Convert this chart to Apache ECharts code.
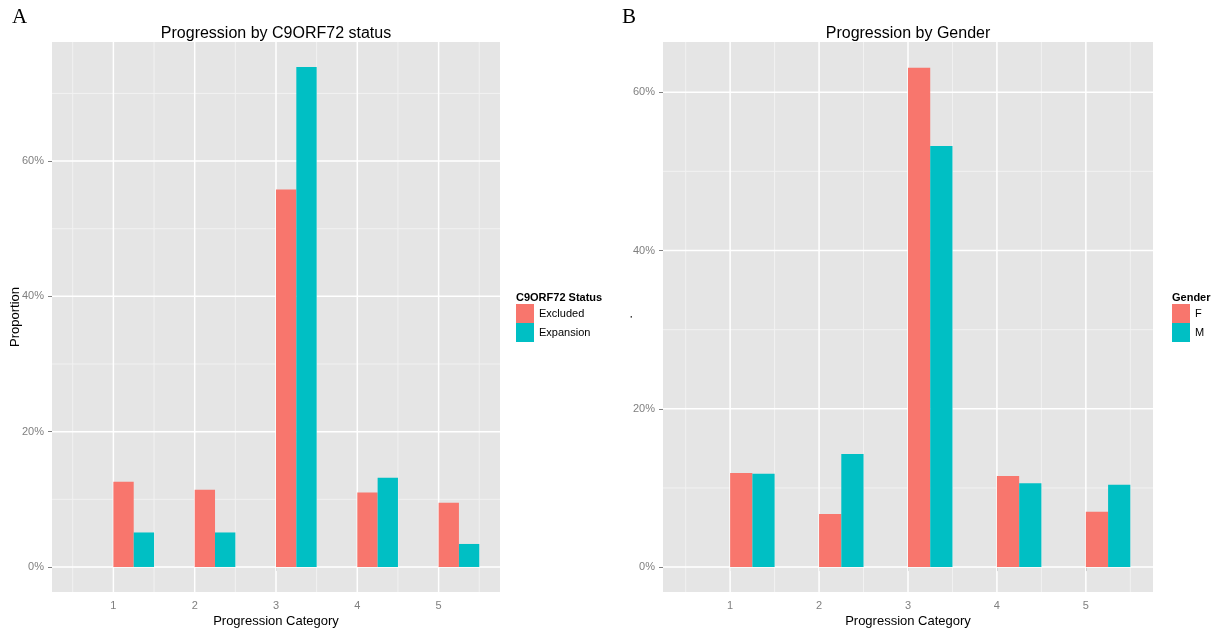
<!DOCTYPE html>
<html>
<head>
<meta charset="utf-8">
<script src="https://cdn.jsdelivr.net/npm/echarts@6/dist/echarts.min.js"></script>
<style>
html,body{margin:0;padding:0;background:#fff;}
#main{width:1217px;height:628px;}
</style>
</head>
<body>
<div id="main"></div>
<script>
// ---- data ----
const categories = [1, 2, 3, 4, 5];
const statusExcluded = [12.6, 11.4, 55.8, 11.0, 9.5];
const statusExpansion = [5.1, 5.1, 73.9, 13.2, 3.4];
const genderF = [11.9, 6.7, 63.1, 11.5, 7.0];
const genderM = [11.8, 14.3, 53.2, 10.6, 10.4];
const xMajorTicks = [1, 2, 3, 4, 5];
const xMinorTicks = [0.5, 1.5, 2.5, 3.5, 4.5, 5.5];
const yMajorTicks = [0, 20, 40, 60];
const yMinorTicksA = [10, 30, 50, 70];
const yMinorTicksB = [10, 30, 50];

const RED = '#F8766D', TEAL = '#00BFC4';
const GREY_TEXT = '#7F7F7F';

function pairs(vals) { return categories.map((c, i) => [c, vals[i]]); }

function barSeries(name, vals, offset, color, idx) {
  return {
    type: 'custom', name: name, xAxisIndex: idx, yAxisIndex: idx, z: 5,
    itemStyle: { color: color },
    data: pairs(vals),
    renderItem: function (params, api) {
      const x0 = api.value(0) + offset;
      const top = api.coord([x0, api.value(1)]);
      const base = api.coord([x0 + 0.25, 0]);
      return {
        type: 'rect',
        shape: { x: top[0], y: top[1], width: base[0] - top[0], height: base[1] - top[1] },
        style: { fill: api.visual('color') }
      };
    }
  };
}

function gridLineSeries(vals, dir, color, width, idx) {
  return {
    type: 'custom', xAxisIndex: idx, yAxisIndex: idx, z: 1, silent: true,
    data: vals.map(v => dir === 'v' ? [v, 0] : [1, v]),
    renderItem: function (params, api) {
      const cs = params.coordSys;
      const p = api.coord([api.value(0), api.value(1)]);
      const shape = dir === 'v'
        ? { x1: p[0], y1: cs.y, x2: p[0], y2: cs.y + cs.height }
        : { x1: cs.x, y1: p[1], x2: cs.x + cs.width, y2: p[1] };
      return { type: 'line', shape: shape, style: { stroke: color, lineWidth: width } };
    }
  };
}

function xAxisDef(idx) {
  return {
    type: 'value', gridIndex: idx, min: 0.245, max: 5.755,
    name: 'Progression Category', nameLocation: 'middle', nameGap: 23, nameMoveOverlap: false,
    nameTextStyle: { fontFamily: 'Liberation Sans', fontSize: 13, color: '#000' },
    axisLine: { show: false },
    axisTick: { show: true, length: 4, customValues: xMajorTicks, lineStyle: { color: GREY_TEXT } },
    axisLabel: { customValues: xMajorTicks, margin: 8, fontFamily: 'Liberation Sans', fontSize: 11, color: GREY_TEXT },
    splitLine: { show: false }
  };
}

function yAxisDef(idx, min, max, name, gap) {
  return {
    type: 'value', gridIndex: idx, min: min, max: max,
    name: name, nameLocation: 'middle', nameGap: gap, nameMoveOverlap: false,
    nameTextStyle: { fontFamily: 'Liberation Sans', fontSize: 13, color: '#000' },
    axisLine: { show: false },
    axisTick: { show: true, length: 4, customValues: yMajorTicks, lineStyle: { color: GREY_TEXT } },
    axisLabel: { customValues: yMajorTicks, margin: 8, formatter: v => v + '%',
      fontFamily: 'Liberation Sans', fontSize: 11, color: GREY_TEXT },
    splitLine: { show: false }
  };
}

const chart = echarts.init(document.getElementById('main'), null, { renderer: 'canvas' });
chart.setOption({
  animation: false,
  backgroundColor: '#fff',
  grid: [
    { left: 52, top: 42, width: 448, height: 550, show: true, backgroundColor: '#E5E5E5', borderWidth: 0, containLabel: false, outerBoundsMode: 'none' },
    { left: 663, top: 42, width: 490, height: 550, show: true, backgroundColor: '#E5E5E5', borderWidth: 0, containLabel: false, outerBoundsMode: 'none' }
  ],
  xAxis: [xAxisDef(0), xAxisDef(1)],
  yAxis: [yAxisDef(0, -3.7, 77.6, 'Proportion', 30), yAxisDef(1, -3.15, 66.35, '.', 28)],
  legend: [
    {
      orient: 'vertical', left: 516, top: 304, padding: 0, itemGap: 0,
      itemWidth: 18, itemHeight: 19, icon: 'rect', selectedMode: false,
      textStyle: { fontFamily: 'Liberation Sans', fontSize: 11, color: '#000' },
      data: ['Excluded', 'Expansion']
    },
    {
      orient: 'vertical', left: 1172, top: 304, padding: 0, itemGap: 0,
      itemWidth: 18, itemHeight: 19, icon: 'rect', selectedMode: false,
      textStyle: { fontFamily: 'Liberation Sans', fontSize: 11, color: '#000' },
      data: ['F', 'M']
    }
  ],
  graphic: [
    { type: 'text', x: 12, y: 28, style: { text: 'A', font: '21px "Liberation Serif"', fill: '#000', textVerticalAlign: 'bottom' } },
    { type: 'text', x: 622, y: 28, style: { text: 'B', font: '21px "Liberation Serif"', fill: '#000', textVerticalAlign: 'bottom' } },
    { type: 'text', x: 276, y: 34, style: { text: 'Progression by C9ORF72 status', font: '16px "Liberation Sans"', fill: '#000', textAlign: 'center', textVerticalAlign: 'middle' } },
    { type: 'text', x: 908, y: 34, style: { text: 'Progression by Gender', font: '16px "Liberation Sans"', fill: '#000', textAlign: 'center', textVerticalAlign: 'middle' } },
    { type: 'text', x: 516, y: 298, style: { text: 'C9ORF72 Status', font: 'bold 11px "Liberation Sans"', fill: '#000', textVerticalAlign: 'middle' } },
    { type: 'text', x: 1172, y: 298, style: { text: 'Gender', font: 'bold 11px "Liberation Sans"', fill: '#000', textVerticalAlign: 'middle' } }
  ],
  series: [
    gridLineSeries(xMinorTicks, 'v', '#F2F2F2', 1, 0),
    gridLineSeries(yMinorTicksA, 'h', '#F2F2F2', 1, 0),
    gridLineSeries(xMajorTicks, 'v', '#FFFFFF', 1.5, 0),
    gridLineSeries(yMajorTicks, 'h', '#FFFFFF', 1.5, 0),
    gridLineSeries(xMinorTicks, 'v', '#F2F2F2', 1, 1),
    gridLineSeries(yMinorTicksB, 'h', '#F2F2F2', 1, 1),
    gridLineSeries(xMajorTicks, 'v', '#FFFFFF', 1.5, 1),
    gridLineSeries(yMajorTicks, 'h', '#FFFFFF', 1.5, 1),
    barSeries('Excluded', statusExcluded, 0, RED, 0),
    barSeries('Expansion', statusExpansion, 0.25, TEAL, 0),
    barSeries('F', genderF, 0, RED, 1),
    barSeries('M', genderM, 0.25, TEAL, 1)
  ]
});
</script>
</body>
</html>
